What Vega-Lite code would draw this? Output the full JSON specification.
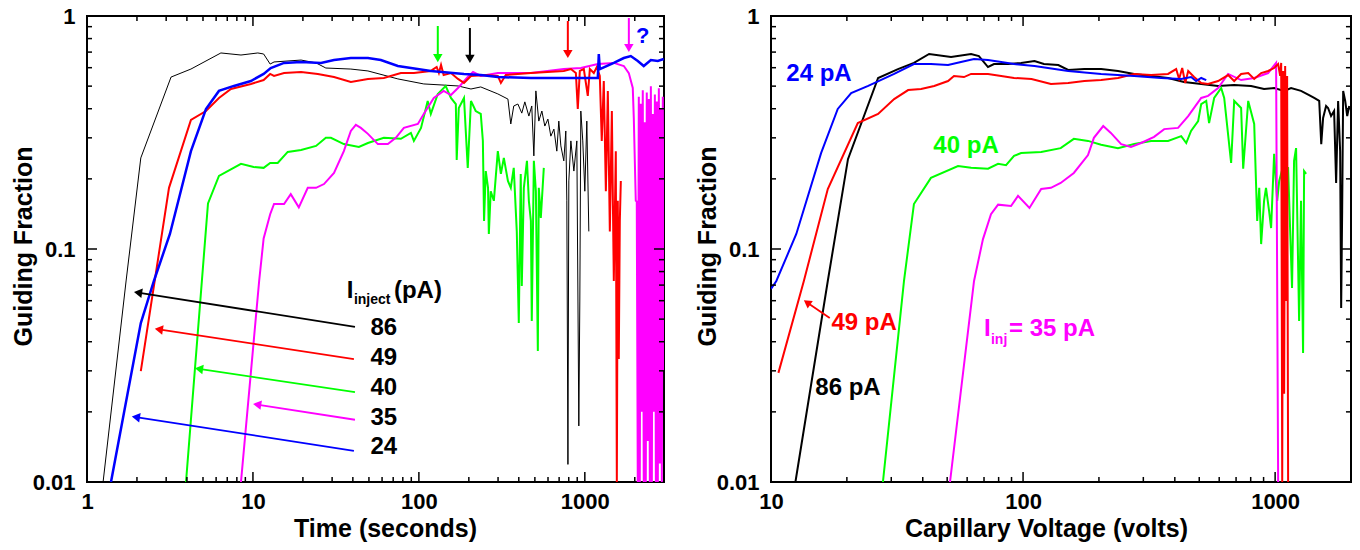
{
  "$schema": "https://vega.github.io/schema/vega-lite/v6.json",
  "background": "white",
  "padding": {"left": 10, "top": 4, "right": 0, "bottom": 0},
  "spacing": 107,
  "bounds": "flush",
  "config": {
    "font": "Liberation Sans",
    "view": {"stroke": "black", "strokeWidth": 2},
    "axis": {"grid": false, "domain": false, "ticks": false, "labelFont": "Liberation Sans", "labelFontSize": 22, "labelFontWeight": "bold", "labelColor": "black", "titleFont": "Liberation Sans", "titleFontSize": 25, "titleFontWeight": "bold", "titleColor": "black", "labelFlush": false, "labelOverlap": false},
    "rule": {"color": "black", "strokeWidth": 1.5},
    "text": {"font": "Liberation Sans", "fontWeight": "bold"}
  },
  "datasets": {
    "XmajL": [{"t":10},{"t":100},{"t":1000}],
    "XminL": [{"t":2},{"t":3},{"t":4},{"t":5},{"t":6},{"t":7},{"t":8},{"t":9},{"t":20},{"t":30},{"t":40},{"t":50},{"t":60},{"t":70},{"t":80},{"t":90},{"t":200},{"t":300},{"t":400},{"t":500},{"t":600},{"t":700},{"t":800},{"t":900},{"t":2000}],
    "XmajR": [{"v":100},{"v":1000}],
    "XminR": [{"v":20},{"v":30},{"v":40},{"v":50},{"v":60},{"v":70},{"v":80},{"v":90},{"v":200},{"v":300},{"v":400},{"v":500},{"v":600},{"v":700},{"v":800},{"v":900}],
    "Ymaj": [{"f":0.1}],
    "Ymin": [{"f":0.02},{"f":0.03},{"f":0.04},{"f":0.05},{"f":0.06},{"f":0.07},{"f":0.08},{"f":0.09},{"f":0.2},{"f":0.3},{"f":0.4},{"f":0.5},{"f":0.6},{"f":0.7},{"f":0.8},{"f":0.9}],
    "L": [
      {"s":"86","t":1.25,"f":0.01},{"s":"86","t":1.72,"f":0.0729},{"s":"86","t":2.11,"f":0.246},{"s":"86","t":3.21,"f":0.547},{"s":"86","t":4.23,"f":0.592},{"s":"86","t":6.41,"f":0.694},{"s":"86","t":8.47,"f":0.68},{"s":"86","t":10.7,"f":0.694},{"s":"86","t":11.6,"f":0.687},{"s":"86","t":12.7,"f":0.622},{"s":"86","t":13.4,"f":0.635},{"s":"86","t":19.5,"f":0.647},{"s":"86","t":24,"f":0.629},{"s":"86","t":27.5,"f":0.598},{"s":"86","t":38.9,"f":0.592},{"s":"86","t":49.3,"f":0.581},{"s":"86","t":74.7,"f":0.537},{"s":"86","t":107,"f":0.511},{"s":"86","t":136,"f":0.506},{"s":"86","t":172,"f":0.501},{"s":"86","t":206,"f":0.486},{"s":"86","t":236,"f":0.496},{"s":"86","t":299,"f":0.463},{"s":"86","t":344,"f":0.44},{"s":"86","t":358,"f":0.344},{"s":"86","t":373,"f":0.411},{"s":"86","t":395,"f":0.419},{"s":"86","t":417,"f":0.383},{"s":"86","t":435,"f":0.428},{"s":"86","t":460,"f":0.372},{"s":"86","t":479,"f":0.411},{"s":"86","t":493,"f":0.251},{"s":"86","t":507,"f":0.477},{"s":"86","t":528,"f":0.354},{"s":"86","t":551,"f":0.391},{"s":"86","t":574,"f":0.337},{"s":"86","t":599,"f":0.361},{"s":"86","t":624,"f":0.305},{"s":"86","t":651,"f":0.327},{"s":"86","t":678,"f":0.263},{"s":"86","t":697,"f":0.354},{"s":"86","t":717,"f":0.277},{"s":"86","t":747,"f":0.239},{"s":"86","t":768,"f":0.321},{"s":"86","t":779,"f":0.161},{"s":"86","t":791,"f":0.0119},{"s":"86","t":801,"f":0.196},{"s":"86","t":824,"f":0.291},{"s":"86","t":859,"f":0.216},{"s":"86","t":895,"f":0.291},{"s":"86","t":920,"f":0.0174},{"s":"86","t":933,"f":0.0598},{"s":"86","t":946,"f":0.391},{"s":"86","t":972,"f":0.291},{"s":"86","t":1000,"f":0.177},{"s":"86","t":1028,"f":0.354},{"s":"86","t":1057,"f":0.119},
      {"s":"49","t":2.11,"f":0.0299},{"s":"49","t":3.12,"f":0.183},{"s":"49","t":4.23,"f":0.358},{"s":"49","t":5.21,"f":0.391},{"s":"49","t":6.24,"f":0.445},{"s":"49","t":7.37,"f":0.486},{"s":"49","t":9.72,"f":0.511},{"s":"49","t":11.6,"f":0.531},{"s":"49","t":12.7,"f":0.564},{"s":"49","t":13.4,"f":0.553},{"s":"49","t":15.4,"f":0.569},{"s":"49","t":19.5,"f":0.575},{"s":"49","t":24.6,"f":0.564},{"s":"49","t":30.8,"f":0.547},{"s":"49","t":38.9,"f":0.521},{"s":"49","t":49.3,"f":0.537},{"s":"49","t":61.5,"f":0.542},{"s":"49","t":77.9,"f":0.569},{"s":"49","t":93.3,"f":0.569},{"s":"49","t":118,"f":0.581},{"s":"49","t":128,"f":0.604},{"s":"49","t":132,"f":0.569},{"s":"49","t":136,"f":0.616},{"s":"49","t":141,"f":0.558},{"s":"49","t":156,"f":0.569},{"s":"49","t":172,"f":0.537},{"s":"49","t":187,"f":0.516},{"s":"49","t":206,"f":0.553},{"s":"49","t":253,"f":0.558},{"s":"49","t":299,"f":0.553},{"s":"49","t":312,"f":0.516},{"s":"49","t":334,"f":0.558},{"s":"49","t":473,"f":0.569},{"s":"49","t":747,"f":0.581},{"s":"49","t":824,"f":0.592},{"s":"49","t":883,"f":0.569},{"s":"49","t":907,"f":0.399},{"s":"49","t":933,"f":0.581},{"s":"49","t":986,"f":0.592},{"s":"49","t":1042,"f":0.454},{"s":"49","t":1072,"f":0.592},{"s":"49","t":1133,"f":0.569},{"s":"49","t":1181,"f":0.604},{"s":"49","t":1231,"f":0.553},{"s":"49","t":1265,"f":0.291},{"s":"49","t":1301,"f":0.526},{"s":"49","t":1339,"f":0.177},{"s":"49","t":1376,"f":0.477},{"s":"49","t":1415,"f":0.119},{"s":"49","t":1455,"f":0.391},{"s":"49","t":1495,"f":0.0729},{"s":"49","t":1537,"f":0.263},{"s":"49","t":1559,"f":0.01},{"s":"49","t":1580,"f":0.161},{"s":"49","t":1602,"f":0.0337},{"s":"49","t":1625,"f":0.132},{"s":"49","t":1648,"f":0.196},
      {"s":"40","t":3.95,"f":0.01},{"s":"40","t":5.36,"f":0.157},{"s":"40","t":6.24,"f":0.206},{"s":"40","t":8.47,"f":0.232},{"s":"40","t":10.1,"f":0.225},{"s":"40","t":11.6,"f":0.223},{"s":"40","t":12.7,"f":0.234},{"s":"40","t":14.1,"f":0.234},{"s":"40","t":16.2,"f":0.261},{"s":"40","t":19.5,"f":0.266},{"s":"40","t":24,"f":0.277},{"s":"40","t":27.5,"f":0.3},{"s":"40","t":29.5,"f":0.3},{"s":"40","t":35.3,"f":0.282},{"s":"40","t":43.5,"f":0.274},{"s":"40","t":49.3,"f":0.285},{"s":"40","t":61.5,"f":0.3},{"s":"40","t":77.9,"f":0.297},{"s":"40","t":89.5,"f":0.315},{"s":"40","t":93.3,"f":0.291},{"s":"40","t":103,"f":0.331},{"s":"40","t":113,"f":0.432},{"s":"40","t":118,"f":0.38},{"s":"40","t":130,"f":0.463},{"s":"40","t":145,"f":0.501},{"s":"40","t":156,"f":0.445},{"s":"40","t":167,"f":0.419},{"s":"40","t":169,"f":0.241},{"s":"40","t":174,"f":0.403},{"s":"40","t":187,"f":0.445},{"s":"40","t":197,"f":0.223},{"s":"40","t":206,"f":0.432},{"s":"40","t":220,"f":0.391},{"s":"40","t":236,"f":0.38},{"s":"40","t":243,"f":0.291},{"s":"40","t":247,"f":0.132},{"s":"40","t":253,"f":0.216},{"s":"40","t":261,"f":0.183},{"s":"40","t":264,"f":0.116},{"s":"40","t":271,"f":0.177},{"s":"40","t":283,"f":0.161},{"s":"40","t":299,"f":0.263},{"s":"40","t":312,"f":0.21},{"s":"40","t":325,"f":0.246},{"s":"40","t":344,"f":0.196},{"s":"40","t":358,"f":0.183},{"s":"40","t":373,"f":0.223},{"s":"40","t":389,"f":0.119},{"s":"40","t":400,"f":0.0481},{"s":"40","t":411,"f":0.21},{"s":"40","t":417,"f":0.0694},{"s":"40","t":429,"f":0.183},{"s":"40","t":448,"f":0.239},{"s":"40","t":460,"f":0.161},{"s":"40","t":473,"f":0.132},{"s":"40","t":479,"f":0.0491},{"s":"40","t":493,"f":0.239},{"s":"40","t":507,"f":0.177},{"s":"40","t":521,"f":0.0365},{"s":"40","t":528,"f":0.183},{"s":"40","t":543,"f":0.136},{"s":"40","t":566,"f":0.223},
      {"s":"35","t":8.47,"f":0.01},{"s":"35","t":10.9,"f":0.0729},{"s":"35","t":11.6,"f":0.111},{"s":"35","t":12.7,"f":0.141},{"s":"35","t":13.4,"f":0.156},{"s":"35","t":15.4,"f":0.156},{"s":"35","t":16.9,"f":0.172},{"s":"35","t":18.9,"f":0.151},{"s":"35","t":21.4,"f":0.183},{"s":"35","t":24,"f":0.183},{"s":"35","t":26.8,"f":0.19},{"s":"35","t":30.8,"f":0.212},{"s":"35","t":35.3,"f":0.263},{"s":"35","t":38.9,"f":0.321},{"s":"35","t":41.7,"f":0.341},{"s":"35","t":44.7,"f":0.331},{"s":"35","t":49.3,"f":0.312},{"s":"35","t":56.6,"f":0.282},{"s":"35","t":65,"f":0.282},{"s":"35","t":72.6,"f":0.3},{"s":"35","t":81.2,"f":0.331},{"s":"35","t":98.6,"f":0.344},{"s":"35","t":107,"f":0.38},{"s":"35","t":123,"f":0.445},{"s":"35","t":141,"f":0.477},{"s":"35","t":156,"f":0.458},{"s":"35","t":172,"f":0.491},{"s":"35","t":197,"f":0.547},{"s":"35","t":212,"f":0.575},{"s":"35","t":236,"f":0.553},{"s":"35","t":299,"f":0.569},{"s":"35","t":473,"f":0.569},{"s":"35","t":747,"f":0.592},{"s":"35","t":946,"f":0.598},{"s":"35","t":1197,"f":0.622},{"s":"35","t":1495,"f":0.629},{"s":"35","t":1718,"f":0.61},{"s":"35","t":1841,"f":0.569},{"s":"35","t":1945,"f":0.491},{"s":"35","t":1973,"f":0.365},{"s":"35","t":2028,"f":0.161},{"s":"35","t":2056,"f":0.16},{"s":"35","t":2085,"f":0.01},{"s":"35","t":2115,"f":0.45},{"s":"35","t":2144,"f":0.01},{"s":"35","t":2174,"f":0.42},{"s":"35","t":2205,"f":0.02},{"s":"35","t":2235,"f":0.48},{"s":"35","t":2265,"f":0.01},{"s":"35","t":2298,"f":0.35},{"s":"35","t":2330,"f":0.01},{"s":"35","t":2362,"f":0.47},{"s":"35","t":2397,"f":0.015},{"s":"35","t":2430,"f":0.44},{"s":"35","t":2464,"f":0.01},{"s":"35","t":2500,"f":0.5},{"s":"35","t":2535,"f":0.01},{"s":"35","t":2570,"f":0.38},{"s":"35","t":2606,"f":0.02},{"s":"35","t":2643,"f":0.46},{"s":"35","t":2680,"f":0.01},{"s":"35","t":2718,"f":0.43},{"s":"35","t":2754,"f":0.01},{"s":"35","t":2793,"f":0.49},{"s":"35","t":2832,"f":0.012},{"s":"35","t":2871,"f":0.4},{"s":"35","t":2911,"f":0.01},{"s":"35","t":2951,"f":0.45},{"s":"35","t":2990,"f":0.03},
      {"s":"24","t":1.395,"f":0.01},{"s":"24","t":2.11,"f":0.0481},{"s":"24","t":2.53,"f":0.0729},{"s":"24","t":3.16,"f":0.116},{"s":"24","t":4.23,"f":0.263},{"s":"24","t":5.21,"f":0.399},{"s":"24","t":6.24,"f":0.477},{"s":"24","t":7.68,"f":0.501},{"s":"24","t":9.72,"f":0.526},{"s":"24","t":11.6,"f":0.564},{"s":"24","t":12.8,"f":0.598},{"s":"24","t":15.4,"f":0.629},{"s":"24","t":19.5,"f":0.635},{"s":"24","t":25.7,"f":0.629},{"s":"24","t":30.8,"f":0.647},{"s":"24","t":38.9,"f":0.66},{"s":"24","t":49.3,"f":0.66},{"s":"24","t":59,"f":0.647},{"s":"24","t":74.7,"f":0.61},{"s":"24","t":118,"f":0.581},{"s":"24","t":187,"f":0.564},{"s":"24","t":236,"f":0.558},{"s":"24","t":299,"f":0.547},{"s":"24","t":473,"f":0.542},{"s":"24","t":747,"f":0.542},{"s":"24","t":1197,"f":0.542},{"s":"24","t":1214,"f":0.687},{"s":"24","t":1231,"f":0.592},{"s":"24","t":1495,"f":0.629},{"s":"24","t":1718,"f":0.66},{"s":"24","t":1892,"f":0.673},{"s":"24","t":2085,"f":0.641},{"s":"24","t":2265,"f":0.61},{"s":"24","t":2500,"f":0.647},{"s":"24","t":2754,"f":0.641},{"s":"24","t":2990,"f":0.654}
    ],
    "R": [
      {"s":"86","v":12.5,"f":0.01},{"s":"86","v":16.8,"f":0.0729},{"s":"86","v":20.2,"f":0.243},{"s":"86","v":26.6,"f":0.542},{"s":"86","v":31.9,"f":0.592},{"s":"86","v":36.9,"f":0.629},{"s":"86","v":42.4,"f":0.687},{"s":"86","v":51.8,"f":0.667},{"s":"86","v":62.2,"f":0.687},{"s":"86","v":66.8,"f":0.673},{"s":"86","v":72.6,"f":0.604},{"s":"86","v":76.7,"f":0.622},{"s":"86","v":87.2,"f":0.622},{"s":"86","v":98.2,"f":0.629},{"s":"86","v":111,"f":0.641},{"s":"86","v":121,"f":0.622},{"s":"86","v":138,"f":0.616},{"s":"86","v":151,"f":0.587},{"s":"86","v":175,"f":0.592},{"s":"86","v":204,"f":0.592},{"s":"86","v":238,"f":0.581},{"s":"86","v":276,"f":0.564},{"s":"86","v":322,"f":0.553},{"s":"86","v":376,"f":0.542},{"s":"86","v":435,"f":0.521},{"s":"86","v":509,"f":0.511},{"s":"86","v":594,"f":0.501},{"s":"86","v":688,"f":0.506},{"s":"86","v":803,"f":0.501},{"s":"86","v":904,"f":0.486},{"s":"86","v":991,"f":0.491},{"s":"86","v":1086,"f":0.477},{"s":"86","v":1157,"f":0.491},{"s":"86","v":1267,"f":0.477},{"s":"86","v":1364,"f":0.458},{"s":"86","v":1429,"f":0.445},{"s":"86","v":1496,"f":0.432},{"s":"86","v":1524,"f":0.282},{"s":"86","v":1550,"f":0.365},{"s":"86","v":1593,"f":0.411},{"s":"86","v":1622,"f":0.403},{"s":"86","v":1667,"f":0.372},{"s":"86","v":1714,"f":0.391},{"s":"86","v":1746,"f":0.192},{"s":"86","v":1778,"f":0.432},{"s":"86","v":1811,"f":0.263},{"s":"86","v":1828,"f":0.0558},{"s":"86","v":1845,"f":0.146},{"s":"86","v":1862,"f":0.477},{"s":"86","v":1897,"f":0.432},{"s":"86","v":1932,"f":0.372},{"s":"86","v":1968,"f":0.411},
      {"s":"49","v":10.7,"f":0.0294},{"s":"49","v":13.5,"f":0.0729},{"s":"49","v":16.8,"f":0.181},{"s":"49","v":22.1,"f":0.347},{"s":"49","v":26.6,"f":0.38},{"s":"49","v":30.8,"f":0.44},{"s":"49","v":35,"f":0.481},{"s":"49","v":39.4,"f":0.486},{"s":"49","v":44.4,"f":0.501},{"s":"49","v":50.4,"f":0.526},{"s":"49","v":53.2,"f":0.553},{"s":"49","v":58.3,"f":0.547},{"s":"49","v":62.2,"f":0.564},{"s":"49","v":72.6,"f":0.564},{"s":"49","v":81.9,"f":0.553},{"s":"49","v":92.1,"f":0.542},{"s":"49","v":108,"f":0.537},{"s":"49","v":129,"f":0.511},{"s":"49","v":151,"f":0.516},{"s":"49","v":175,"f":0.526},{"s":"49","v":204,"f":0.531},{"s":"49","v":238,"f":0.542},{"s":"49","v":276,"f":0.564},{"s":"49","v":322,"f":0.558},{"s":"49","v":376,"f":0.564},{"s":"49","v":405,"f":0.592},{"s":"49","v":416,"f":0.537},{"s":"49","v":428,"f":0.598},{"s":"49","v":440,"f":0.516},{"s":"49","v":452,"f":0.581},{"s":"49","v":477,"f":0.547},{"s":"49","v":509,"f":0.516},{"s":"49","v":542,"f":0.511},{"s":"49","v":594,"f":0.526},{"s":"49","v":651,"f":0.558},{"s":"49","v":688,"f":0.526},{"s":"49","v":733,"f":0.564},{"s":"49","v":782,"f":0.569},{"s":"49","v":826,"f":0.537},{"s":"49","v":880,"f":0.569},{"s":"49","v":938,"f":0.581},{"s":"49","v":991,"f":0.598},{"s":"49","v":1028,"f":0.622},{"s":"49","v":1047,"f":0.553},{"s":"49","v":1057,"f":0.629},{"s":"49","v":1067,"f":0.01},{"s":"49","v":1076,"f":0.581},{"s":"49","v":1086,"f":0.0239},{"s":"49","v":1096,"f":0.61},{"s":"49","v":1106,"f":0.0598},{"s":"49","v":1116,"f":0.553},{"s":"49","v":1126,"f":0.01},
      {"s":"40","v":27.8,"f":0.01},{"s":"40","v":33.7,"f":0.0729},{"s":"40","v":36.9,"f":0.156},{"s":"40","v":43.1,"f":0.202},{"s":"40","v":55.2,"f":0.227},{"s":"40","v":62.2,"f":0.223},{"s":"40","v":72.6,"f":0.221},{"s":"40","v":79.6,"f":0.232},{"s":"40","v":85.6,"f":0.229},{"s":"40","v":92.1,"f":0.251},{"s":"40","v":98.2,"f":0.258},{"s":"40","v":118,"f":0.261},{"s":"40","v":141,"f":0.271},{"s":"40","v":159,"f":0.297},{"s":"40","v":181,"f":0.291},{"s":"40","v":204,"f":0.28},{"s":"40","v":238,"f":0.271},{"s":"40","v":276,"f":0.282},{"s":"40","v":322,"f":0.291},{"s":"40","v":376,"f":0.291},{"s":"40","v":424,"f":0.305},{"s":"40","v":444,"f":0.285},{"s":"40","v":464,"f":0.321},{"s":"40","v":495,"f":0.354},{"s":"40","v":509,"f":0.419},{"s":"40","v":533,"f":0.432},{"s":"40","v":547,"f":0.347},{"s":"40","v":573,"f":0.445},{"s":"40","v":611,"f":0.491},{"s":"40","v":628,"f":0.445},{"s":"40","v":669,"f":0.234},{"s":"40","v":688,"f":0.432},{"s":"40","v":733,"f":0.403},{"s":"40","v":747,"f":0.221},{"s":"40","v":782,"f":0.432},{"s":"40","v":826,"f":0.344},{"s":"40","v":849,"f":0.132},{"s":"40","v":865,"f":0.183},{"s":"40","v":880,"f":0.105},{"s":"40","v":904,"f":0.161},{"s":"40","v":920,"f":0.183},{"s":"40","v":946,"f":0.146},{"s":"40","v":964,"f":0.123},{"s":"40","v":991,"f":0.256},{"s":"40","v":1019,"f":0.161},{"s":"40","v":1038,"f":0.196},{"s":"40","v":1076,"f":0.227},{"s":"40","v":1126,"f":0.223},{"s":"40","v":1167,"f":0.068},{"s":"40","v":1189,"f":0.239},{"s":"40","v":1211,"f":0.271},{"s":"40","v":1245,"f":0.0491},{"s":"40","v":1267,"f":0.161},{"s":"40","v":1291,"f":0.0358},{"s":"40","v":1303,"f":0.216},{"s":"40","v":1327,"f":0.21},
      {"s":"35","v":51.3,"f":0.01},{"s":"35","v":63.9,"f":0.0729},{"s":"35","v":69.3,"f":0.11},{"s":"35","v":74.6,"f":0.141},{"s":"35","v":79.6,"f":0.155},{"s":"35","v":89.6,"f":0.153},{"s":"35","v":95.5,"f":0.169},{"s":"35","v":106,"f":0.15},{"s":"35","v":118,"f":0.181},{"s":"35","v":129,"f":0.183},{"s":"35","v":141,"f":0.192},{"s":"35","v":159,"f":0.212},{"s":"35","v":181,"f":0.253},{"s":"35","v":191,"f":0.3},{"s":"35","v":208,"f":0.337},{"s":"35","v":223,"f":0.315},{"s":"35","v":245,"f":0.282},{"s":"35","v":268,"f":0.274},{"s":"35","v":294,"f":0.285},{"s":"35","v":331,"f":0.303},{"s":"35","v":363,"f":0.327},{"s":"35","v":412,"f":0.331},{"s":"35","v":452,"f":0.372},{"s":"35","v":509,"f":0.445},{"s":"35","v":542,"f":0.454},{"s":"35","v":594,"f":0.491},{"s":"35","v":651,"f":0.564},{"s":"35","v":733,"f":0.531},{"s":"35","v":826,"f":0.542},{"s":"35","v":938,"f":0.569},{"s":"35","v":1009,"f":0.629},{"s":"35","v":1028,"f":0.01},
      {"s":"24","v":10,"f":0.0674},{"s":"24","v":10.5,"f":0.0729},{"s":"24","v":12.6,"f":0.116},{"s":"24","v":15.8,"f":0.258},{"s":"24","v":18.4,"f":0.399},{"s":"24","v":20.8,"f":0.467},{"s":"24","v":24.3,"f":0.501},{"s":"24","v":30.8,"f":0.564},{"s":"24","v":36.9,"f":0.622},{"s":"24","v":43.1,"f":0.622},{"s":"24","v":50.4,"f":0.616},{"s":"24","v":56.7,"f":0.635},{"s":"24","v":63.9,"f":0.654},{"s":"24","v":72.6,"f":0.647},{"s":"24","v":81.9,"f":0.635},{"s":"24","v":92.1,"f":0.622},{"s":"24","v":111,"f":0.61},{"s":"24","v":151,"f":0.581},{"s":"24","v":204,"f":0.564},{"s":"24","v":276,"f":0.553},{"s":"24","v":353,"f":0.542},{"s":"24","v":424,"f":0.537},{"s":"24","v":464,"f":0.547},{"s":"24","v":486,"f":0.526},{"s":"24","v":509,"f":0.542},{"s":"24","v":533,"f":0.531}
    ],
    "LArrows": [
      {"s":"86","t":41.2,"f":0.0463,"t2":2.03,"f2":0.065},
      {"s":"49","t":40.6,"f":0.0337,"t2":2.71,"f2":0.0452},
      {"s":"40","t":41.2,"f":0.0243,"t2":4.73,"f2":0.0306},
      {"s":"35","t":41.2,"f":0.0185,"t2":10.6,"f2":0.0215},
      {"s":"24","t":40.6,"f":0.0136,"t2":1.97,"f2":0.019}
    ],
    "LVArrows": [
      {"s":"40","t":130,"f":0.906,"f2":0.66},
      {"s":"86","t":203,"f":0.888,"f2":0.654},
      {"s":"49","t":790,"f":0.952,"f2":0.687},
      {"s":"35","t":1842,"f":0.98,"f2":0.729}
    ],
    "LNums": [
      {"label":"86","t":61.5,"f":0.0458},
      {"label":"49","t":61.5,"f":0.034},
      {"label":"40","t":61.5,"f":0.0253},
      {"label":"35","t":61.5,"f":0.0188},
      {"label":"24","t":61.5,"f":0.0141}
    ],
    "LBig": [
      {"label":"I","t":36.8,"f":0.0616},
      {"label":"(pA)","t":70.7,"f":0.0616}
    ],
    "LSub": [{"label":"inject","t":40.6,"f":0.0581}],
    "LQ": [{"s":"24","label":"?","t":2236,"f":0.821}],
    "RLabels": [
      {"s":"24","label":"24 pA","v":15.5,"f":0.564},
      {"s":"40","label":"40 pA","v":59.4,"f":0.277},
      {"s":"49","label":"49 pA","v":23.4,"f":0.0481},
      {"s":"86","label":"86 pA","v":20.2,"f":0.0253}
    ],
    "RArrow": [{"s":"49","v":17.1,"f":0.0506,"v2":13.9,"f2":0.0589}],
    "RBig": [
      {"s":"35","label":"I","v":70.0,"f":0.0423},
      {"s":"35","label":"= 35 pA","v":87.9,"f":0.0423}
    ],
    "RSub": [{"s":"35","label":"inj","v":74.6,"f":0.0391}]
  },
  "hconcat": [
    {
      "width": 577,
      "height": 466,
      "layer": [
        {
          "data": {"name": "L"},
          "transform": [{"filter": "datum.s === '86'"}],
          "mark": {"type": "line", "color": "#000000", "strokeWidth": 1, "clip": true},
          "encoding": {
            "x": {"field": "t", "type": "quantitative", "scale": {"type": "log", "domain": [1, 3000], "nice": false}, "axis": {"orient": "bottom", "values": [1, 10, 100, 1000], "format": "~g", "labelPadding": 9, "title": "Time (seconds)", "titleX": 298, "titleY": 54, "titleAlign": "center", "titleBaseline": "alphabetic"}},
            "y": {"field": "f", "type": "quantitative", "scale": {"type": "log", "domain": [0.01, 1], "nice": false}, "axis": {"orient": "left", "values": [0.01, 0.1, 1], "format": "~g", "labelPadding": 12, "title": "Guiding Fraction", "titleX": -56, "titleY": 230, "titleAlign": "center", "titleBaseline": "alphabetic"}}
          }
        },
        {
          "data": {"name": "L"},
          "transform": [{"filter": "datum.s === '40'"}],
          "mark": {"type": "line", "color": "#00ff00", "strokeWidth": 2, "clip": true},
          "encoding": {
            "x": {"field": "t", "type": "quantitative", "scale": {"type": "log", "domain": [1, 3000], "nice": false}, "axis": null},
            "y": {"field": "f", "type": "quantitative", "scale": {"type": "log", "domain": [0.01, 1], "nice": false}, "axis": null}
          }
        },
        {
          "data": {"name": "L"},
          "transform": [{"filter": "datum.s === '35'"}],
          "mark": {"type": "line", "color": "#ff00ff", "strokeWidth": 2, "clip": true},
          "encoding": {
            "x": {"field": "t", "type": "quantitative", "scale": {"type": "log", "domain": [1, 3000], "nice": false}, "axis": null},
            "y": {"field": "f", "type": "quantitative", "scale": {"type": "log", "domain": [0.01, 1], "nice": false}, "axis": null}
          }
        },
        {
          "data": {"name": "L"},
          "transform": [{"filter": "datum.s === '49'"}],
          "mark": {"type": "line", "color": "#ff0000", "strokeWidth": 2, "clip": true},
          "encoding": {
            "x": {"field": "t", "type": "quantitative", "scale": {"type": "log", "domain": [1, 3000], "nice": false}, "axis": null},
            "y": {"field": "f", "type": "quantitative", "scale": {"type": "log", "domain": [0.01, 1], "nice": false}, "axis": null}
          }
        },
        {
          "data": {"name": "L"},
          "transform": [{"filter": "datum.s === '24'"}],
          "mark": {"type": "line", "color": "#0000ff", "strokeWidth": 2.5, "clip": true},
          "encoding": {
            "x": {"field": "t", "type": "quantitative", "scale": {"type": "log", "domain": [1, 3000], "nice": false}, "axis": null},
            "y": {"field": "f", "type": "quantitative", "scale": {"type": "log", "domain": [0.01, 1], "nice": false}, "axis": null}
          }
        },
        {
          "data": {"name": "XmajL"},
          "mark": {"type": "rule"},
          "encoding": {
            "x": {"field": "t", "type": "quantitative", "scale": {"type": "log", "domain": [1, 3000], "nice": false}, "axis": null},
            "y": {"datum": 0.01, "type": "quantitative", "scale": {"type": "log", "domain": [0.01, 1], "nice": false}, "axis": null},
            "y2": {"datum": 0.01104}
          }
        },
        {
          "data": {"name": "XmajL"},
          "mark": {"type": "rule"},
          "encoding": {
            "x": {"field": "t", "type": "quantitative", "scale": {"type": "log", "domain": [1, 3000], "nice": false}, "axis": null},
            "y": {"datum": 1, "type": "quantitative", "scale": {"type": "log", "domain": [0.01, 1], "nice": false}, "axis": null},
            "y2": {"datum": 0.906}
          }
        },
        {
          "data": {"name": "XminL"},
          "mark": {"type": "rule"},
          "encoding": {
            "x": {"field": "t", "type": "quantitative", "scale": {"type": "log", "domain": [1, 3000], "nice": false}, "axis": null},
            "y": {"datum": 0.01, "type": "quantitative", "scale": {"type": "log", "domain": [0.01, 1], "nice": false}, "axis": null},
            "y2": {"datum": 0.01051}
          }
        },
        {
          "data": {"name": "XminL"},
          "mark": {"type": "rule"},
          "encoding": {
            "x": {"field": "t", "type": "quantitative", "scale": {"type": "log", "domain": [1, 3000], "nice": false}, "axis": null},
            "y": {"datum": 1, "type": "quantitative", "scale": {"type": "log", "domain": [0.01, 1], "nice": false}, "axis": null},
            "y2": {"datum": 0.952}
          }
        },
        {
          "data": {"name": "Ymaj"},
          "mark": {"type": "rule"},
          "encoding": {
            "y": {"field": "f", "type": "quantitative", "scale": {"type": "log", "domain": [0.01, 1], "nice": false}, "axis": null},
            "x": {"datum": 1, "type": "quantitative", "scale": {"type": "log", "domain": [1, 3000], "nice": false}, "axis": null},
            "x2": {"datum": 1.149}
          }
        },
        {
          "data": {"name": "Ymaj"},
          "mark": {"type": "rule"},
          "encoding": {
            "y": {"field": "f", "type": "quantitative", "scale": {"type": "log", "domain": [0.01, 1], "nice": false}, "axis": null},
            "x": {"datum": 3000, "type": "quantitative", "scale": {"type": "log", "domain": [1, 3000], "nice": false}, "axis": null},
            "x2": {"datum": 2611}
          }
        },
        {
          "data": {"name": "Ymin"},
          "mark": {"type": "rule"},
          "encoding": {
            "y": {"field": "f", "type": "quantitative", "scale": {"type": "log", "domain": [0.01, 1], "nice": false}, "axis": null},
            "x": {"datum": 1, "type": "quantitative", "scale": {"type": "log", "domain": [1, 3000], "nice": false}, "axis": null},
            "x2": {"datum": 1.072}
          }
        },
        {
          "data": {"name": "Ymin"},
          "mark": {"type": "rule"},
          "encoding": {
            "y": {"field": "f", "type": "quantitative", "scale": {"type": "log", "domain": [0.01, 1], "nice": false}, "axis": null},
            "x": {"datum": 3000, "type": "quantitative", "scale": {"type": "log", "domain": [1, 3000], "nice": false}, "axis": null},
            "x2": {"datum": 2798}
          }
        },
        {
          "data": {"name": "LArrows"},
          "mark": {"type": "rule", "strokeWidth": 1.8},
          "encoding": {
            "x": {"field": "t", "type": "quantitative", "scale": {"type": "log", "domain": [1, 3000], "nice": false}, "axis": null},
            "y": {"field": "f", "type": "quantitative", "scale": {"type": "log", "domain": [0.01, 1], "nice": false}, "axis": null},
            "x2": {"field": "t2"},
            "y2": {"field": "f2"},
            "color": {"field": "s", "type": "nominal", "scale": {"domain": ["86", "49", "40", "35", "24"], "range": ["#000000", "#ff0000", "#00ff00", "#ff00ff", "#0000ff"]}, "legend": null}
          }
        },
        {
          "data": {"name": "LArrows"},
          "mark": {"type": "point", "shape": "triangle-left", "angle": 9, "filled": true, "size": 90, "opacity": 1},
          "encoding": {
            "x": {"field": "t2", "type": "quantitative", "scale": {"type": "log", "domain": [1, 3000], "nice": false}, "axis": null},
            "y": {"field": "f2", "type": "quantitative", "scale": {"type": "log", "domain": [0.01, 1], "nice": false}, "axis": null},
            "color": {"field": "s", "type": "nominal", "scale": {"domain": ["86", "49", "40", "35", "24"], "range": ["#000000", "#ff0000", "#00ff00", "#ff00ff", "#0000ff"]}, "legend": null}
          }
        },
        {
          "data": {"name": "LVArrows"},
          "mark": {"type": "rule", "strokeWidth": 2},
          "encoding": {
            "x": {"field": "t", "type": "quantitative", "scale": {"type": "log", "domain": [1, 3000], "nice": false}, "axis": null},
            "y": {"field": "f", "type": "quantitative", "scale": {"type": "log", "domain": [0.01, 1], "nice": false}, "axis": null},
            "y2": {"field": "f2"},
            "color": {"field": "s", "type": "nominal", "scale": {"domain": ["86", "49", "40", "35", "24"], "range": ["#000000", "#ff0000", "#00ff00", "#ff00ff", "#0000ff"]}, "legend": null}
          }
        },
        {
          "data": {"name": "LVArrows"},
          "mark": {"type": "point", "shape": "triangle-down", "filled": true, "size": 90, "opacity": 1},
          "encoding": {
            "x": {"field": "t", "type": "quantitative", "scale": {"type": "log", "domain": [1, 3000], "nice": false}, "axis": null},
            "y": {"field": "f2", "type": "quantitative", "scale": {"type": "log", "domain": [0.01, 1], "nice": false}, "axis": null},
            "color": {"field": "s", "type": "nominal", "scale": {"domain": ["86", "49", "40", "35", "24"], "range": ["#000000", "#ff0000", "#00ff00", "#ff00ff", "#0000ff"]}, "legend": null}
          }
        },
        {
          "data": {"name": "LNums"},
          "mark": {"type": "text", "fontSize": 24, "fontWeight": "bold", "align": "center", "baseline": "middle", "color": "black"},
          "encoding": {
            "x": {"field": "t", "type": "quantitative", "scale": {"type": "log", "domain": [1, 3000], "nice": false}, "axis": null},
            "y": {"field": "f", "type": "quantitative", "scale": {"type": "log", "domain": [0.01, 1], "nice": false}, "axis": null},
            "text": {"field": "label"}
          }
        },
        {
          "data": {"name": "LBig"},
          "mark": {"type": "text", "fontSize": 24, "fontWeight": "bold", "align": "left", "baseline": "alphabetic", "color": "black"},
          "encoding": {
            "x": {"field": "t", "type": "quantitative", "scale": {"type": "log", "domain": [1, 3000], "nice": false}, "axis": null},
            "y": {"field": "f", "type": "quantitative", "scale": {"type": "log", "domain": [0.01, 1], "nice": false}, "axis": null},
            "text": {"field": "label"}
          }
        },
        {
          "data": {"name": "LSub"},
          "mark": {"type": "text", "fontSize": 14, "fontWeight": "bold", "align": "left", "baseline": "alphabetic", "color": "black"},
          "encoding": {
            "x": {"field": "t", "type": "quantitative", "scale": {"type": "log", "domain": [1, 3000], "nice": false}, "axis": null},
            "y": {"field": "f", "type": "quantitative", "scale": {"type": "log", "domain": [0.01, 1], "nice": false}, "axis": null},
            "text": {"field": "label"}
          }
        },
        {
          "data": {"name": "LQ"},
          "mark": {"type": "text", "fontSize": 22, "fontWeight": "bold", "align": "center", "baseline": "middle", "color": "#0000ff"},
          "encoding": {
            "x": {"field": "t", "type": "quantitative", "scale": {"type": "log", "domain": [1, 3000], "nice": false}, "axis": null},
            "y": {"field": "f", "type": "quantitative", "scale": {"type": "log", "domain": [0.01, 1], "nice": false}, "axis": null},
            "text": {"field": "label"}
          }
        }
      ],
      "resolve": {"axis": {"x": "independent", "y": "independent"}}
    },
    {
      "width": 580,
      "height": 466,
      "layer": [
        {
          "data": {"name": "R"},
          "transform": [{"filter": "datum.s === '86'"}],
          "mark": {"type": "line", "color": "#000000", "strokeWidth": 2, "clip": true},
          "encoding": {
            "x": {"field": "v", "type": "quantitative", "scale": {"type": "log", "domain": [10, 2000], "nice": false}, "axis": {"orient": "bottom", "values": [10, 100, 1000], "format": "~g", "labelPadding": 9, "title": "Capillary Voltage (volts)", "titleX": 275, "titleY": 54, "titleAlign": "center", "titleBaseline": "alphabetic"}},
            "y": {"field": "f", "type": "quantitative", "scale": {"type": "log", "domain": [0.01, 1], "nice": false}, "axis": {"orient": "left", "values": [0.01, 0.1, 1], "format": "~g", "labelPadding": 12, "title": "Guiding Fraction", "titleX": -56, "titleY": 230, "titleAlign": "center", "titleBaseline": "alphabetic"}}
          }
        },
        {
          "data": {"name": "R"},
          "transform": [{"filter": "datum.s === '40'"}],
          "mark": {"type": "line", "color": "#00ff00", "strokeWidth": 2, "clip": true},
          "encoding": {
            "x": {"field": "v", "type": "quantitative", "scale": {"type": "log", "domain": [10, 2000], "nice": false}, "axis": null},
            "y": {"field": "f", "type": "quantitative", "scale": {"type": "log", "domain": [0.01, 1], "nice": false}, "axis": null}
          }
        },
        {
          "data": {"name": "R"},
          "transform": [{"filter": "datum.s === '35'"}],
          "mark": {"type": "line", "color": "#ff00ff", "strokeWidth": 2, "clip": true},
          "encoding": {
            "x": {"field": "v", "type": "quantitative", "scale": {"type": "log", "domain": [10, 2000], "nice": false}, "axis": null},
            "y": {"field": "f", "type": "quantitative", "scale": {"type": "log", "domain": [0.01, 1], "nice": false}, "axis": null}
          }
        },
        {
          "data": {"name": "R"},
          "transform": [{"filter": "datum.s === '49'"}],
          "mark": {"type": "line", "color": "#ff0000", "strokeWidth": 2, "clip": true},
          "encoding": {
            "x": {"field": "v", "type": "quantitative", "scale": {"type": "log", "domain": [10, 2000], "nice": false}, "axis": null},
            "y": {"field": "f", "type": "quantitative", "scale": {"type": "log", "domain": [0.01, 1], "nice": false}, "axis": null}
          }
        },
        {
          "data": {"name": "R"},
          "transform": [{"filter": "datum.s === '24'"}],
          "mark": {"type": "line", "color": "#0000ff", "strokeWidth": 2, "clip": true},
          "encoding": {
            "x": {"field": "v", "type": "quantitative", "scale": {"type": "log", "domain": [10, 2000], "nice": false}, "axis": null},
            "y": {"field": "f", "type": "quantitative", "scale": {"type": "log", "domain": [0.01, 1], "nice": false}, "axis": null}
          }
        },
        {
          "data": {"name": "XmajR"},
          "mark": {"type": "rule"},
          "encoding": {
            "x": {"field": "v", "type": "quantitative", "scale": {"type": "log", "domain": [10, 2000], "nice": false}, "axis": null},
            "y": {"datum": 0.01, "type": "quantitative", "scale": {"type": "log", "domain": [0.01, 1], "nice": false}, "axis": null},
            "y2": {"datum": 0.01104}
          }
        },
        {
          "data": {"name": "XmajR"},
          "mark": {"type": "rule"},
          "encoding": {
            "x": {"field": "v", "type": "quantitative", "scale": {"type": "log", "domain": [10, 2000], "nice": false}, "axis": null},
            "y": {"datum": 1, "type": "quantitative", "scale": {"type": "log", "domain": [0.01, 1], "nice": false}, "axis": null},
            "y2": {"datum": 0.906}
          }
        },
        {
          "data": {"name": "XminR"},
          "mark": {"type": "rule"},
          "encoding": {
            "x": {"field": "v", "type": "quantitative", "scale": {"type": "log", "domain": [10, 2000], "nice": false}, "axis": null},
            "y": {"datum": 0.01, "type": "quantitative", "scale": {"type": "log", "domain": [0.01, 1], "nice": false}, "axis": null},
            "y2": {"datum": 0.01051}
          }
        },
        {
          "data": {"name": "XminR"},
          "mark": {"type": "rule"},
          "encoding": {
            "x": {"field": "v", "type": "quantitative", "scale": {"type": "log", "domain": [10, 2000], "nice": false}, "axis": null},
            "y": {"datum": 1, "type": "quantitative", "scale": {"type": "log", "domain": [0.01, 1], "nice": false}, "axis": null},
            "y2": {"datum": 0.952}
          }
        },
        {
          "data": {"name": "Ymaj"},
          "mark": {"type": "rule"},
          "encoding": {
            "y": {"field": "f", "type": "quantitative", "scale": {"type": "log", "domain": [0.01, 1], "nice": false}, "axis": null},
            "x": {"datum": 10, "type": "quantitative", "scale": {"type": "log", "domain": [10, 2000], "nice": false}, "axis": null},
            "x2": {"datum": 10.96}
          }
        },
        {
          "data": {"name": "Ymaj"},
          "mark": {"type": "rule"},
          "encoding": {
            "y": {"field": "f", "type": "quantitative", "scale": {"type": "log", "domain": [0.01, 1], "nice": false}, "axis": null},
            "x": {"datum": 2000, "type": "quantitative", "scale": {"type": "log", "domain": [10, 2000], "nice": false}, "axis": null},
            "x2": {"datum": 1825}
          }
        },
        {
          "data": {"name": "Ymin"},
          "mark": {"type": "rule"},
          "encoding": {
            "y": {"field": "f", "type": "quantitative", "scale": {"type": "log", "domain": [0.01, 1], "nice": false}, "axis": null},
            "x": {"datum": 10, "type": "quantitative", "scale": {"type": "log", "domain": [10, 2000], "nice": false}, "axis": null},
            "x2": {"datum": 10.47}
          }
        },
        {
          "data": {"name": "Ymin"},
          "mark": {"type": "rule"},
          "encoding": {
            "y": {"field": "f", "type": "quantitative", "scale": {"type": "log", "domain": [0.01, 1], "nice": false}, "axis": null},
            "x": {"datum": 2000, "type": "quantitative", "scale": {"type": "log", "domain": [10, 2000], "nice": false}, "axis": null},
            "x2": {"datum": 1910}
          }
        },
        {
          "data": {"name": "RLabels"},
          "mark": {"type": "text", "fontSize": 24, "fontWeight": "bold", "align": "center", "baseline": "middle"},
          "encoding": {
            "x": {"field": "v", "type": "quantitative", "scale": {"type": "log", "domain": [10, 2000], "nice": false}, "axis": null},
            "y": {"field": "f", "type": "quantitative", "scale": {"type": "log", "domain": [0.01, 1], "nice": false}, "axis": null},
            "text": {"field": "label"},
            "color": {"field": "s", "type": "nominal", "scale": {"domain": ["86", "49", "40", "35", "24"], "range": ["#000000", "#ff0000", "#00ff00", "#ff00ff", "#0000ff"]}, "legend": null}
          }
        },
        {
          "data": {"name": "RArrow"},
          "mark": {"type": "rule", "strokeWidth": 1.8},
          "encoding": {
            "x": {"field": "v", "type": "quantitative", "scale": {"type": "log", "domain": [10, 2000], "nice": false}, "axis": null},
            "y": {"field": "f", "type": "quantitative", "scale": {"type": "log", "domain": [0.01, 1], "nice": false}, "axis": null},
            "x2": {"field": "v2"},
            "y2": {"field": "f2"},
            "color": {"field": "s", "type": "nominal", "scale": {"domain": ["86", "49", "40", "35", "24"], "range": ["#000000", "#ff0000", "#00ff00", "#ff00ff", "#0000ff"]}, "legend": null}
          }
        },
        {
          "data": {"name": "RArrow"},
          "mark": {"type": "point", "shape": "triangle-left", "angle": 35, "filled": true, "size": 80, "opacity": 1},
          "encoding": {
            "x": {"field": "v2", "type": "quantitative", "scale": {"type": "log", "domain": [10, 2000], "nice": false}, "axis": null},
            "y": {"field": "f2", "type": "quantitative", "scale": {"type": "log", "domain": [0.01, 1], "nice": false}, "axis": null},
            "color": {"field": "s", "type": "nominal", "scale": {"domain": ["86", "49", "40", "35", "24"], "range": ["#000000", "#ff0000", "#00ff00", "#ff00ff", "#0000ff"]}, "legend": null}
          }
        },
        {
          "data": {"name": "RBig"},
          "mark": {"type": "text", "fontSize": 24, "fontWeight": "bold", "align": "left", "baseline": "alphabetic"},
          "encoding": {
            "x": {"field": "v", "type": "quantitative", "scale": {"type": "log", "domain": [10, 2000], "nice": false}, "axis": null},
            "y": {"field": "f", "type": "quantitative", "scale": {"type": "log", "domain": [0.01, 1], "nice": false}, "axis": null},
            "text": {"field": "label"},
            "color": {"field": "s", "type": "nominal", "scale": {"domain": ["86", "49", "40", "35", "24"], "range": ["#000000", "#ff0000", "#00ff00", "#ff00ff", "#0000ff"]}, "legend": null}
          }
        },
        {
          "data": {"name": "RSub"},
          "mark": {"type": "text", "fontSize": 14, "fontWeight": "bold", "align": "left", "baseline": "alphabetic"},
          "encoding": {
            "x": {"field": "v", "type": "quantitative", "scale": {"type": "log", "domain": [10, 2000], "nice": false}, "axis": null},
            "y": {"field": "f", "type": "quantitative", "scale": {"type": "log", "domain": [0.01, 1], "nice": false}, "axis": null},
            "text": {"field": "label"},
            "color": {"field": "s", "type": "nominal", "scale": {"domain": ["86", "49", "40", "35", "24"], "range": ["#000000", "#ff0000", "#00ff00", "#ff00ff", "#0000ff"]}, "legend": null}
          }
        }
      ],
      "resolve": {"axis": {"x": "independent", "y": "independent"}}
    }
  ]
}
